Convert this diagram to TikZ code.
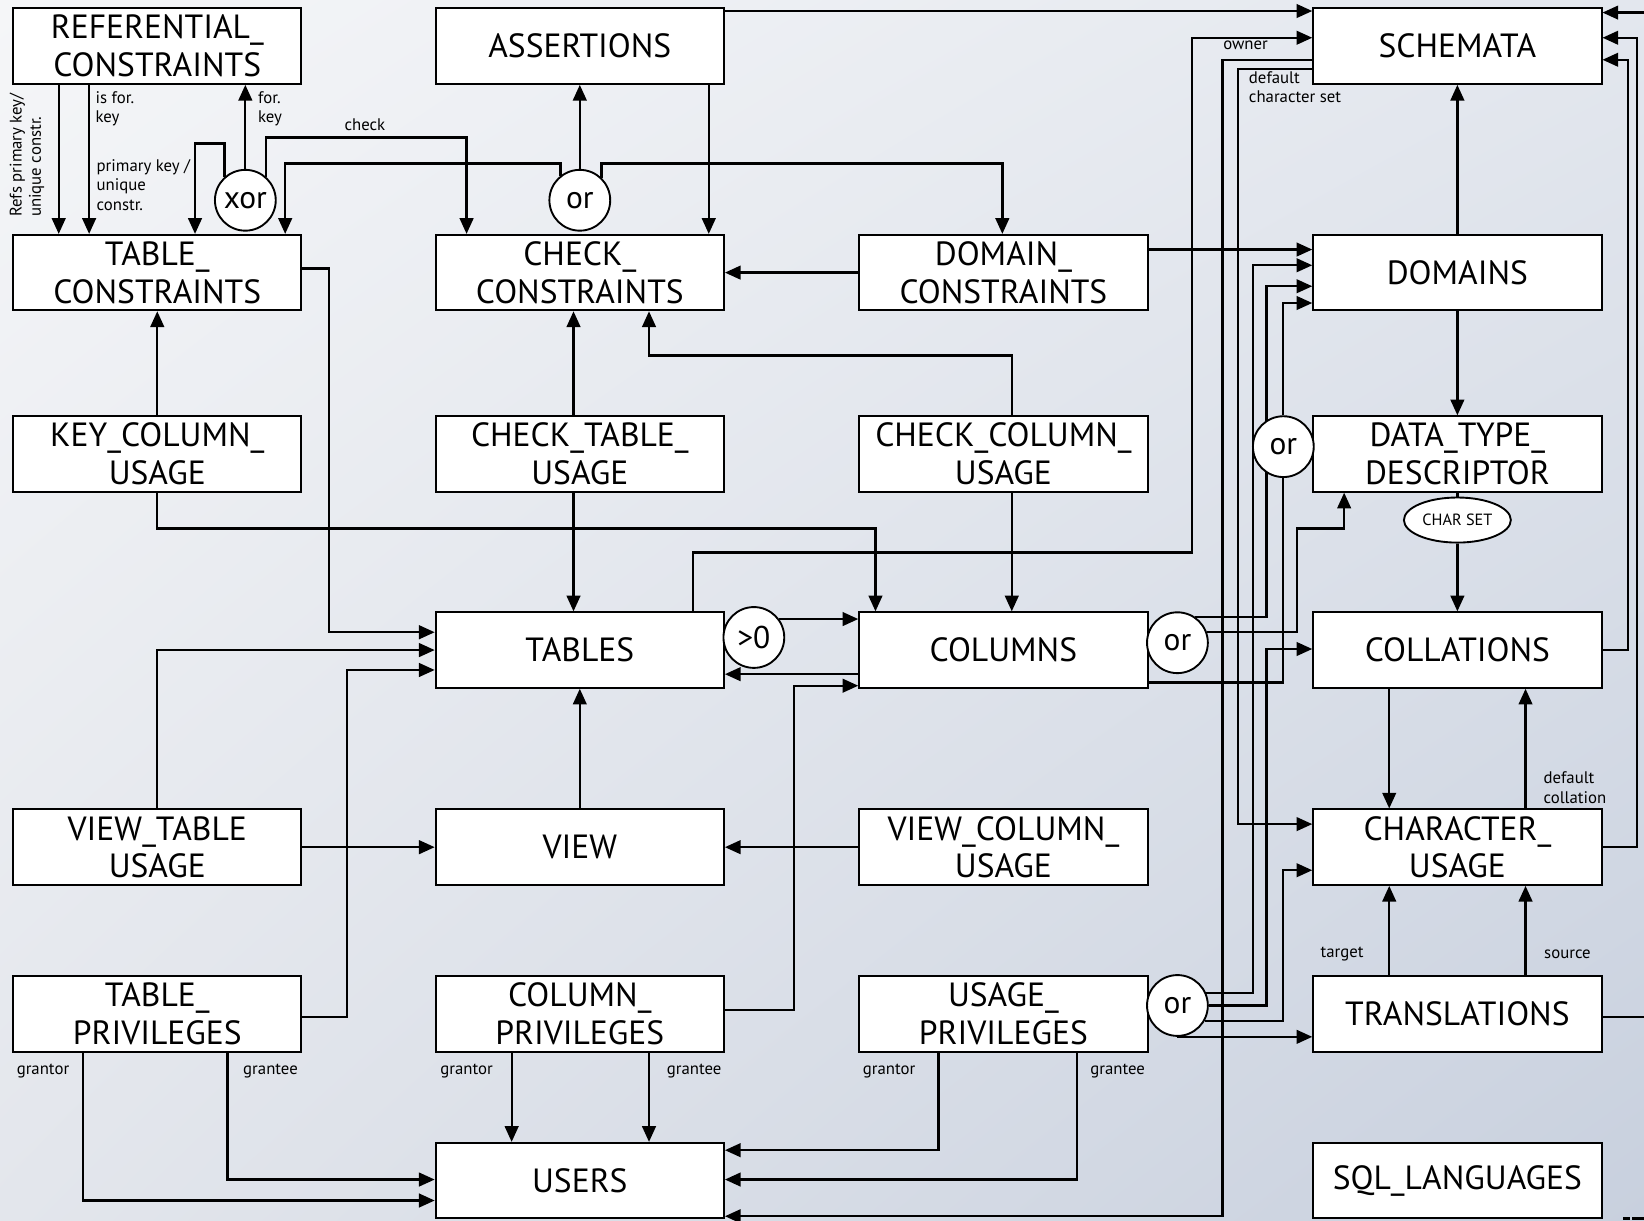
\documentclass[tikz,border=0pt]{standalone}
\usepackage{fontspec}
\setmainfont{PT Sans}
\usetikzlibrary{arrows.meta,shapes.geometric,calc,shadings}
\pgfdeclarelayer{back}
\pgfdeclarelayer{conn}
\pgfsetlayers{back,conn,main}
\definecolor{bgUL}{HTML}{F5F6F8}
\definecolor{bgUR}{HTML}{E3E7EE}
\definecolor{bgLL}{HTML}{E3E6EC}
\definecolor{bgLR}{HTML}{C8D0DE}
\begin{document}
\begin{tikzpicture}[x=1pt,y=-1pt,
  box/.style={draw, fill=white, line width=1.8pt, minimum width=275pt, minimum height=72pt, inner sep=0pt, align=center, font=\fontsize{32}{36}\selectfont},
  gate/.style={circle, draw, fill=white, line width=1.8pt, minimum size=58pt, inner sep=0pt, font=\fontsize{30}{30}\selectfont},
  arr/.style={line width=2.2pt, -{Triangle[length=15pt,width=13pt]}},
  ln/.style={line width=2.2pt},
  lbl/.style={font=\fontsize{16}{18.5}\selectfont, inner sep=0pt},
]
\useasboundingbox (0,0) rectangle (1568,1164);
\clip (0,0) rectangle (1568,1164);
\begin{pgfonlayer}{back}
\shade[upper left=bgUL, upper right=bgUR, lower left=bgLL, lower right=bgLR] (0,0) rectangle (1568,1164);
\end{pgfonlayer}

% boxes
\node[box] (ref) at (150,44) {REFERENTIAL\_\\CONSTRAINTS};
\node[box] (ass) at (553,44) {ASSERTIONS};
\node[box] (sch) at (1390,44) {SCHEMATA};
\node[box] (tc) at (150,260) {TABLE\_\\CONSTRAINTS};
\node[box] (cc) at (553,260) {CHECK\_\\CONSTRAINTS};
\node[box] (dc) at (957,260) {DOMAIN\_\\CONSTRAINTS};
\node[box] (dom) at (1390,260) {DOMAINS};
\node[box] (kcu) at (150,433) {KEY\_COLUMN\_\\USAGE};
\node[box] (ctu) at (553,433) {CHECK\_TABLE\_\\USAGE};
\node[box] (ccu) at (957,433) {CHECK\_COLUMN\_\\USAGE};
\node[box] (dtd) at (1390,433) {DATA\_TYPE\_\\DESCRIPTOR};
\node[box] (tab) at (553,620) {TABLES};
\node[box] (col) at (957,620) {COLUMNS};
\node[box] (coll) at (1390,620) {COLLATIONS};
\node[box] (vtu) at (150,808) {VIEW\_TABLE\\USAGE};
\node[box] (view) at (553,808) {VIEW};
\node[box] (vcu) at (957,808) {VIEW\_COLUMN\_\\USAGE};
\node[box] (cu) at (1390,808) {CHARACTER\_\\USAGE};
\node[box] (tp) at (150,967) {TABLE\_\\PRIVILEGES};
\node[box] (cp) at (553,967) {COLUMN\_\\PRIVILEGES};
\node[box] (up) at (957,967) {USAGE\_\\PRIVILEGES};
\node[box] (tr) at (1390,967) {TRANSLATIONS};
\node[box] (users) at (553,1126) {USERS};
\node[box] (sql) at (1390,1126) {SQL\_LANGUAGES};

% gates
\node[gate] (xor) at (234,191) {xor};
\node[gate] (orA) at (553,191) {or};
\node[gate] (gt) at (719,608) {>0};
\node[gate] (orC) at (1123,613) {or};
\node[gate] (orD) at (1224,426) {or};
\node[gate] (orU) at (1123,959) {or};
\node[ellipse, draw, fill=white, line width=1.8pt, minimum width=102pt, minimum height=43pt, inner sep=0pt, font=\fontsize{15.5}{18}\selectfont] (cs) at (1390,496) {CHAR SET};

% connectors
\begin{pgfonlayer}{conn}
\draw[arr] (ref.south -| 56,0) -- (tc.north -| 56,0);
\draw[arr] (ref.south -| 85,0) -- (tc.north -| 85,0);
\draw[arr] (xor.north) -- (xor.north |- ref.south);
\draw[arr] (xor.132) |- (186,137) -- (186,137 |- tc.north);
\draw[arr] (xor.48) |- (445,131) -- (445,131 |- cc.north);
\draw[arr] (orA.128) |- (272,156) -- (272,156 |- tc.north);
\draw[arr] (orA.46) |- (956,156) -- (956,156 |- dc.north);
\draw[arr] (orA.north) -- (orA.north |- ass.south);
\draw[arr] (ass.south -| 676,0) -- (cc.north -| 676,0);
\draw[arr] (ass.east |- 0,10.5) -- (sch.west |- 0,10.5);
\draw[arr] (dc.west) -- (cc.east);
\draw[arr] (dc.east |- 0,238) -- (dom.west |- 0,238);
\draw[arr] (dom.north) -- (sch.south);
\draw[arr] (dom.south) -- (dtd.north);
\draw[ln] (dtd.south) -- (cs.north);
\draw[arr] (cs.south) -- (coll.north);
\draw[arr] (kcu.north) -- (tc.south);
\draw[arr] (kcu.south) |- (835,504) -- (835,504 |- col.north);
\draw[arr] (tc.east |- 0,256) -| (314,603) -- (tab.west |- 0,603);
\draw[arr] (ctu.north -| 547,0) -- (cc.south -| 547,0);
\draw[arr] (ctu.south -| 547,0) -- (tab.north -| 547,0);
\draw[arr] (ccu.north -| 965,0) |- (619,339) -- (619,339 |- cc.south);
\draw[arr] (ccu.south -| 965,0) -- (col.north -| 965,0);
\draw[arr] (tab.north -| 661,0) |- (1137,527) |- (sch.west |- 0,36);
\draw[arr] (gt.36) -- (gt.36 -| col.west);
\draw[arr] (col.west |- 0,643) -- (tab.east |- 0,643);
\draw[arr] (cp.east |- 0,963) -| (757,654) -- (col.west |- 0,654);
\draw[arr] (view.north) -- (tab.south);
\draw[arr] (vtu.east) -- (view.west);
\draw[arr] (vcu.west) -- (view.east);
\draw[arr] (vtu.north) |- (tab.west);
\draw[arr] (tp.east |- 0,970) -| (331,639) -- (tab.west |- 0,639);
\draw[arr] (tp.south -| 79,0) |- (users.west |- 0,1145);
\draw[arr] (tp.south -| 217,0) |- (users.west |- 0,1125);
\draw[arr] (cp.south -| 488,0) -- (users.north -| 488,0);
\draw[arr] (cp.south -| 619,0) -- (users.north -| 619,0);
\draw[arr] (up.south -| 895,0) |- (users.east |- 0,1097);
\draw[arr] (up.south -| 1027,0) |- (users.east |- 0,1125);
\draw[arr] (sch.west |- 0,57) -| (1166,1160) -- (users.east |- 0,1160);
\draw[arr] (sch.west |- 0,66) -| (1181,786) -- (cu.west |- 0,786);
\draw[arr] (orU.24) -| (1195,253) -- (dom.west |- 0,253);
\draw[arr] (orC.56) -| (1208,273) -- (dom.west |- 0,273);
\draw[arr] (orD.north) |- (dom.west |- 0,289);
\draw[arr] (orC.20) -| (1237,504) -| (dtd.south -| 1282,0);
\draw[ln] (col.east |- 0,651) -| (orD.south);
\draw[arr] (orU.east) -| (1208,619) -- (coll.west |- 0,619);
\draw[arr] (orU.-30) -| (1224,830) -- (cu.west |- 0,830);
\draw[arr] (orU.south) -- (orU.south -| tr.west);
\draw[arr] (coll.south -| 1325,0) -- (cu.north -| 1325,0);
\draw[arr] (cu.north -| 1455,0) -- (coll.south -| 1455,0);
\draw[arr] (tr.north -| 1325,0) -- (cu.south -| 1325,0);
\draw[arr] (tr.north -| 1455,0) -- (cu.south -| 1455,0);
\draw[arr] (coll.east) -| (1553,57) -- (sch.east |- 0,57);
\draw[arr] (cu.east) -| (1561,36) -- (sch.east |- 0,36);
\draw[arr] (tr.east |- 0,970) -| (1600,12) -- (sch.east |- 0,12);
\end{pgfonlayer}

% labels
\node[lbl, rotate=90, anchor=north west, align=left] (lrefs) at (9,207) {Refs primary key/\\unique constr.};
\node[lbl, anchor=north west, align=left] (lisfor) at (91,87) {is for.\\key};
\node[lbl, anchor=north west, align=left] (lfor) at (246,87) {for.\\key};
\node[lbl, anchor=north west, align=left] (lpk) at (92,152) {primary key /\\unique\\constr.};
\node[lbl] (lcheck) at (348,119) {check};
\node[lbl] (lowner) at (1188,43) {owner};
\node[lbl, anchor=north west, align=left] (ldcs) at (1191,68) {default\\character set};
\node[lbl, anchor=north west, align=left] (ldcol) at (1472,736) {default\\collation};
\node[lbl] (ltarget) at (1280,910) {target};
\node[lbl] (lsource) at (1495,910) {source};
\node[lbl] (lg1) at (41,1022) {grantor};
\node[lbl] (lg2) at (258,1022) {grantee};
\node[lbl] (lg3) at (445,1022) {grantor};
\node[lbl] (lg4) at (662,1022) {grantee};
\node[lbl] (lg5) at (848,1022) {grantor};
\node[lbl] (lg6) at (1066,1022) {grantee};

% cropped marks at the lower right edge
\fill (1548,1160.5) rectangle (1555,1164);
\fill (1557,1160.5) rectangle (1568,1164);
\end{tikzpicture}
\end{document}
